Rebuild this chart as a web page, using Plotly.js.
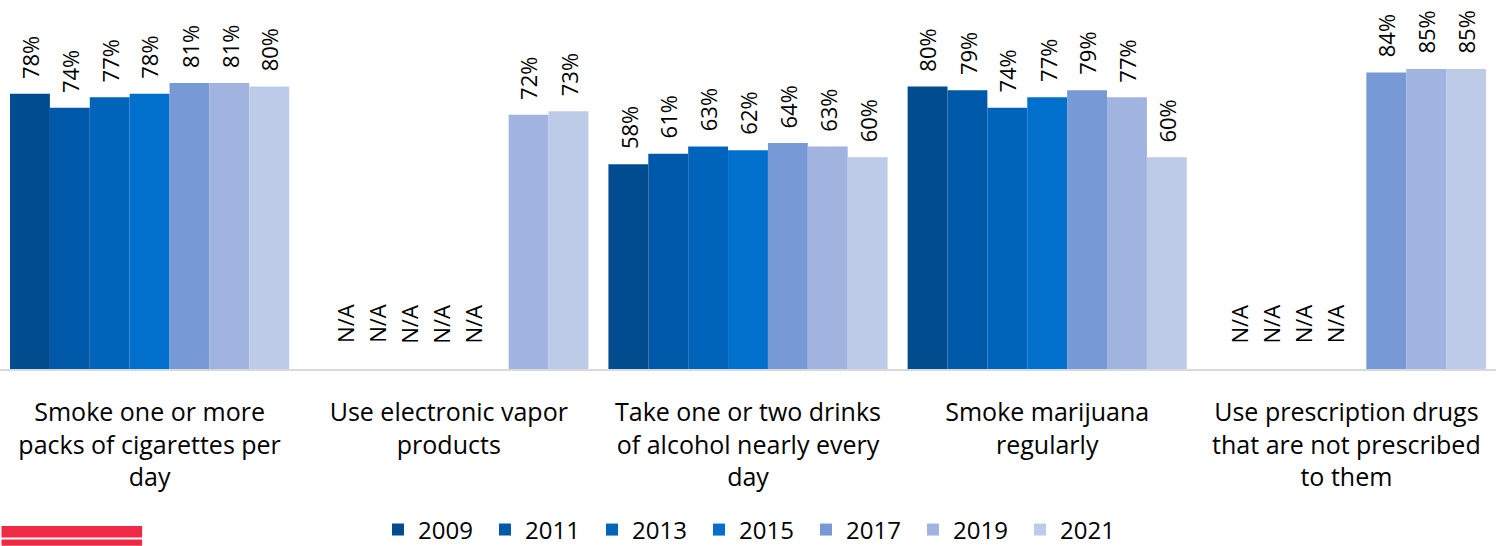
<!DOCTYPE html>
<html>
<head>
<meta charset="utf-8">
<script src="https://cdn.plot.ly/plotly-3.0.1.min.js"></script>
<style>html,body{margin:0;padding:0;background:#fff;}#chart{width:1499px;height:546px;}</style>
</head>
<body>
<div id="chart"></div>
<script>
const categories = [
  "Smoke one or more<br>packs of cigarettes per<br>day",
  "Use electronic vapor<br>products",
  "Take one or two drinks<br>of alcohol nearly every<br>day",
  "Smoke marijuana<br>regularly",
  "Use prescription drugs<br>that are not prescribed<br>to them"
];
const years = ["2009", "2011", "2013", "2015", "2017", "2019", "2021"];
const v2009 = [78, null, 58, 80, null];
const v2011 = [74, null, 61, 79, null];
const v2013 = [77, null, 63, 74, null];
const v2015 = [78, null, 62, 77, null];
const v2017 = [81, null, 64, 79, 84];
const v2019 = [81, 72, 63, 77, 85];
const v2021 = [80, 73, 60, 60, 85];
const series = [v2009, v2011, v2013, v2015, v2017, v2019, v2021];
const colors = ["#004C8F", "#0058A8", "#0064BA", "#0070CC", "#7799D6", "#A1B4E0", "#BDCBE9"];

const FONT = "'Open Sans', Lato, sans-serif";
const bargap = 0.067;
const nS = series.length;
const barW = (1 - bargap) / nS;

const traces = series.map((vals, i) => ({
  type: "bar",
  name: years[i],
  x: categories,
  y: vals,
  marker: {color: colors[i], line: {width: 0}},
  hoverinfo: "none"
}));

const annotations = [];
categories.forEach((cat, c) => {
  const missing = [];
  series.forEach((vals, i) => {
    const off = -(1 - bargap) / 2 + (i + 0.5) * barW;
    if (vals[c] === null) {
      missing.push(off);
    } else {
      annotations.push({
        x: c + off, y: vals[c], xref: "x", yref: "y",
        text: vals[c] + "%", showarrow: false, textangle: -90,
        xanchor: "center", yanchor: "bottom", yshift: 13,
        font: {family: FONT, size: 22, color: "#000"}
      });
    }
  });
  if (missing.length) {
    const mean = missing.reduce((a, b) => a + b, 0) / missing.length;
    missing.forEach(off => {
      annotations.push({
        x: c + mean + (off - mean) * 0.8, y: 12.8, xref: "x", yref: "y",
        text: "N/A", showarrow: false, textangle: -90,
        xanchor: "center", yanchor: "middle",
        font: {family: FONT, size: 22, color: "#000"}
      });
    });
  }
});

const layout = {
  width: 1499, height: 546,
  margin: {l: 0, r: 3, t: 16, b: 177, autoexpand: false},
  barmode: "group", bargap: bargap, bargroupgap: 0,
  paper_bgcolor: "#fff", plot_bgcolor: "#fff",
  font: {family: FONT, size: 22, color: "#000"},
  xaxis: {
    type: "category", showline: true, linecolor: "#D9D9D9", linewidth: 2,
    ticks: "", showgrid: false, zeroline: false, ticklabelstandoff: 20,
    tickfont: {family: FONT, size: 25, color: "#000"}
  },
  yaxis: {range: [0, 100], visible: false, showgrid: false, zeroline: false, fixedrange: true},
  showlegend: true,
  legend: {
    orientation: "h", x: 0.503, xanchor: "center", y: -0.456, yanchor: "middle",
    font: {family: FONT, size: 24, color: "#000"}, entrywidth: 62, traceorder: "normal",
    itemclick: false
  },
  annotations: annotations,
  shapes: [
    {type: "rect", xref: "paper", yref: "paper", x0: 0.001, x1: 0.095, y0: -0.4448, y1: -0.4773, fillcolor: "#EE2A45", line: {width: 0}},
    {type: "rect", xref: "paper", yref: "paper", x0: 0.001, x1: 0.095, y0: -0.483, y1: -0.501, fillcolor: "#EE2A45", line: {width: 0}}
  ]
};

Plotly.newPlot("chart", traces, layout, {displayModeBar: false, staticPlot: true});
</script>
</body>
</html>
